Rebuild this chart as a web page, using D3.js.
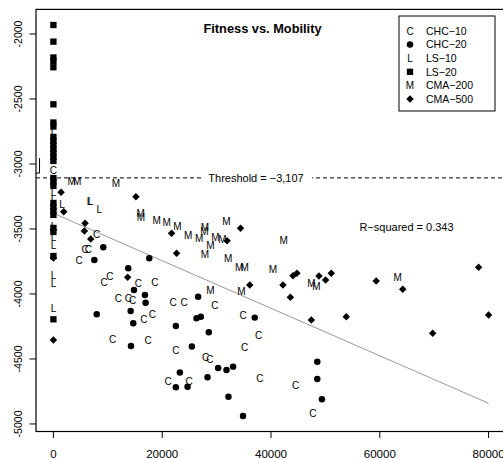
<!DOCTYPE html>
<html>
<head>
<meta charset="utf-8">
<script src="https://cdn.jsdelivr.net/npm/d3@7"></script>
<style>
  body { margin: 0; background: #fff; }
  text { font-family: "Liberation Sans", Arial, Helvetica, sans-serif; }
</style>
</head>
<body>
<svg id="chart" width="503" height="458"></svg>
<script>
// mobility (x) vs fitness (y)
var chc10 = [[0,-3052],[7960,-3541],[5820,-3654],[6420,-3654],[4720,-3744],[9300,-3910],
  [10400,-3862],[15600,-3918],[18660,-3910],[11930,-4033],[13760,-4033],[14570,-4046],
  [22020,-4064],[24040,-4064],[29670,-4085],[16640,-4192],[18170,-4156],[10900,-4348],
  [17430,-4354],[22510,-4431],[27960,-4487],[28750,-4502],[21100,-4669],[24950,-4675],
  [34860,-4162],[37740,-4315],[35170,-4410],[37930,-4648],[44530,-4700],[47710,-4918]];
var chc20 = [[9170,-3641],[7520,-3738],[17620,-3725],[13760,-3802],[14810,-3969],
  [16830,-4008],[16950,-4067],[14200,-4131],[26600,-4021],[7960,-4156],[14260,-4400],
  [14680,-4225],[22510,-4246],[25450,-4405],[26310,-4187],[27100,-4175],[28570,-4295],
  [30280,-4569],[31820,-4585],[33030,-4559],[23250,-4605],[28330,-4641],[22510,-4718],
  [24660,-4713],[32180,-4790],[34860,-4938],[37010,-4182],[48510,-4521],[48510,-4654],
  [49360,-4810]];
var ls10 = [[0,-2746],[0,-2854],[0,-3221],[0,-3269],[0,-3477],[0,-3562],[0,-3623],
  [0,-3854],[0,-3918],[0,-4108],[1600,-3308],[6640,-3285],[6830,-3290],[8440,-3346]];
var ls20 = [[0,-1931],[0,-2059],[0,-2181],[0,-2208],[0,-2256],[0,-2541],[0,-2681],
  [0,-2712],[0,-2792],[0,-2823],[0,-2854],[0,-2885],[0,-2915],[0,-2946],[0,-2977],
  [0,-3108],[0,-3138],[0,-3169],[0,-3300],[0,-3331],[0,-3362],[0,-3392],[0,-3492],
  [0,-3523],[0,-3708],[0,-4195]];
var cma200 = [[3340,-3131],[4350,-3131],[11510,-3146],[16040,-3379],[16090,-3410],
  [18970,-3431],[20810,-3450],[22790,-3481],[24770,-3546],[26790,-3569],[27830,-3490],
  [27740,-3521],[28880,-3628],[27830,-3695],[29800,-3564],[31080,-3579],[31820,-3438],
  [32110,-3725],[34130,-3795],[35170,-3795],[40370,-3808],[42330,-3585],[28880,-3975],
  [34570,-3982],[47410,-3918],[48330,-3944],[63300,-3872]];
var cma500 = [[0,-3723],[0,-4354],[0,-3508],[1410,-3218],[1900,-3367],[5820,-3456],
  [5690,-3515],[6860,-3577],[15170,-3252],[21720,-3533],[22640,-3687],[13650,-3872],
  [31930,-3590],[34390,-3495],[36090,-3931],[42200,-3931],[43560,-4025],[44040,-3859],
  [44770,-3841],[48810,-3862],[50040,-3892],[51080,-3841],[59340,-3900],[64220,-3964],
  [78170,-3795],[47410,-4200],[53830,-4175],[69720,-4302],[80000,-4162]];

var seriesNames = ["CHC\u221210", "CHC\u221220", "LS\u221210", "LS\u221220", "CMA\u2212200", "CMA\u2212500"];
var seriesPch = ["C", "circle", "L", "square", "M", "diamond"];
var xTicks = [0, 20000, 40000, 60000, 80000];
var yTicks = [-2000, -2500, -3000, -3500, -4000, -4500, -5000];

var threshold = -3107;
var fitLine = [[0, -3379], [80000, -4841]];
var rSquared = 0.343;
var bracket = [[-3200, -3070], [-2550, -3070], [-2550, -2955]];

var svg = d3.select("#chart");
var x = d3.scaleLinear().domain([-3200, 83200]).range([36, 506]);
var y = d3.scaleLinear().domain([-5058, -1811]).range([431.5, 9.4]);

// box (right side falls outside the picture)
svg.append("rect")
  .attr("x", x(-3200)).attr("y", y(-1811))
  .attr("width", x(83200) - x(-3200)).attr("height", y(-5058) - y(-1811))
  .attr("fill", "none").attr("stroke", "#000").attr("stroke-width", 1.2);

// x axis
var xa = svg.append("g").attr("transform", "translate(0," + y(-5058) + ")");
xa.selectAll("line").data(xTicks).enter().append("line")
  .attr("x1", function(d) { return x(d); }).attr("x2", function(d) { return x(d); })
  .attr("y1", 0).attr("y2", 6.5).attr("stroke", "#000");
xa.selectAll("text").data(xTicks).enter().append("text")
  .attr("x", function(d) { return x(d); }).attr("y", 26)
  .attr("text-anchor", "middle").attr("font-size", 11.5)
  .text(function(d) { return d; });

// y axis
var ya = svg.append("g").attr("transform", "translate(" + x(-3200) + ",0)");
ya.selectAll("line").data(yTicks).enter().append("line")
  .attr("y1", function(d) { return y(d); }).attr("y2", function(d) { return y(d); })
  .attr("x1", 0).attr("x2", -6.5).attr("stroke", "#000");
ya.selectAll("text").data(yTicks).enter().append("text")
  .attr("transform", function(d) { return "translate(-14," + y(d) + ") rotate(-90)"; })
  .attr("text-anchor", "middle").attr("font-size", 10.5)
  .text(function(d) { return d; });

// title
svg.append("text").attr("x", 262.5).attr("y", 32.5)
  .attr("text-anchor", "middle").attr("font-size", 12.8).attr("font-weight", "bold")
  .text("Fitness vs. Mobility");

// threshold line with label
svg.append("line")
  .attr("x1", x(-3200)).attr("x2", x(83200))
  .attr("y1", y(threshold)).attr("y2", y(threshold))
  .attr("stroke", "#000").attr("stroke-dasharray", "4,3");
svg.append("path")
  .attr("d", d3.line().x(function(d) { return x(d[0]); }).y(function(d) { return y(d[1]); })(bracket))
  .attr("fill", "none").attr("stroke", "#000");

// regression line
svg.append("line")
  .attr("x1", x(fitLine[0][0])).attr("y1", y(fitLine[0][1]))
  .attr("x2", x(fitLine[1][0])).attr("y2", y(fitLine[1][1]))
  .attr("stroke", "#999").attr("stroke-width", 1);

var fmt = d3.format(",");
var thrText = "Threshold = " + fmt(threshold).replace("-", "\u2212").replace("\u2212", "\u2212");
svg.append("rect").attr("x", 201).attr("y", y(threshold) - 8).attr("width", 111).attr("height", 16)
  .attr("fill", "#fff");
svg.append("text").attr("x", 256).attr("y", y(threshold) + 4)
  .attr("text-anchor", "middle").attr("font-size", 11)
  .text(thrText);

svg.append("text").attr("x", 406.5).attr("y", 231)
  .attr("text-anchor", "middle").attr("font-size", 11)
  .text("R\u2212squared = " + rSquared);

function drawMark(sel, pch) {
  if (pch === "circle" || pch === "square" || pch === "diamond") {
    var sym = pch === "circle" ? d3.symbol().type(d3.symbolCircle).size(33)
      : d3.symbol().type(d3.symbolSquare).size(pch === "square" ? 40 : 28);
    sel.append("path").attr("d", sym()).attr("fill", "#000")
      .attr("transform", pch === "diamond" ? "rotate(45)" : null);
  } else {
    sel.append("text").attr("text-anchor", "middle").attr("dy", "0.36em")
      .attr("font-size", 10).text(pch);
  }
}

var allSeries = [chc10, chc20, ls10, ls20, cma200, cma500];
var drawOrder = [3, 2, 0, 1, 4, 5];
drawOrder.forEach(function(i) {
  svg.append("g").selectAll("g").data(allSeries[i]).enter().append("g")
    .attr("transform", function(d) { return "translate(" + x(d[0]) + "," + y(d[1]) + ")"; })
    .each(function() { drawMark(d3.select(this), seriesPch[i]); });
});

// legend
var lg = svg.append("g").attr("transform", "translate(399,16)");
lg.append("rect").attr("width", 96).attr("height", 95)
  .attr("fill", "#fff").attr("stroke", "#000");
seriesNames.forEach(function(name, i) {
  var row = lg.append("g").attr("transform", "translate(11," + (15 + i * 13.6) + ")");
  drawMark(row, seriesPch[i]);
  row.append("text").attr("x", 16).attr("dy", "0.36em").attr("font-size", 10.5).text(name);
});
</script>
</body>
</html>
